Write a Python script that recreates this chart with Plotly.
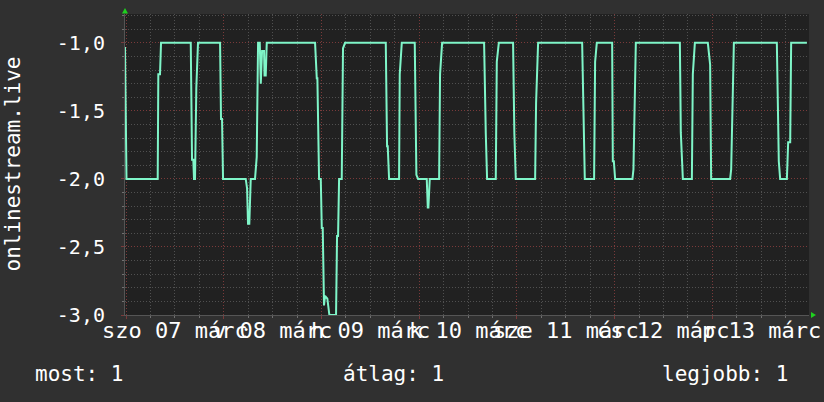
import pandas as pd
import plotly.graph_objects as go

# ---------------- data ----------------
times = [
    "2026-03-06 23:45", "2026-03-06 23:47", "2026-03-06 23:57", "2026-03-07 00:07",
    "2026-03-07 07:47", "2026-03-07 07:56", "2026-03-07 08:21", "2026-03-07 08:36",
    "2026-03-07 15:54", "2026-03-07 16:13", "2026-03-07 16:32", "2026-03-07 16:42",
    "2026-03-07 16:57", "2026-03-07 17:16", "2026-03-07 17:41", "2026-03-07 23:06",
    "2026-03-07 23:20", "2026-03-07 23:35", "2026-03-07 23:50", "2026-03-08 05:24",
    "2026-03-08 05:44", "2026-03-08 05:58", "2026-03-08 06:17", "2026-03-08 06:38",
    "2026-03-08 07:41", "2026-03-08 08:06", "2026-03-08 08:26", "2026-03-08 08:51",
    "2026-03-08 09:06", "2026-03-08 09:25", "2026-03-08 09:54", "2026-03-08 10:01",
    "2026-03-08 10:19", "2026-03-08 10:34", "2026-03-08 22:26", "2026-03-08 22:51",
    "2026-03-08 23:00", "2026-03-08 23:25", "2026-03-08 23:50", "2026-03-09 00:05",
    "2026-03-09 00:19", "2026-03-09 00:38", "2026-03-09 00:53", "2026-03-09 01:27",
    "2026-03-09 01:57", "2026-03-09 03:35", "2026-03-09 03:50", "2026-03-09 04:05",
    "2026-03-09 04:20", "2026-03-09 04:59", "2026-03-09 05:18", "2026-03-09 05:48",
    "2026-03-09 15:48", "2026-03-09 16:07", "2026-03-09 16:17", "2026-03-09 16:37",
    "2026-03-09 19:04", "2026-03-09 19:14", "2026-03-09 19:44", "2026-03-09 22:55",
    "2026-03-09 23:19", "2026-03-09 23:44", "2026-03-10 01:52", "2026-03-10 02:07",
    "2026-03-10 02:16", "2026-03-10 02:36", "2026-03-10 04:54", "2026-03-10 05:08",
    "2026-03-10 05:38", "2026-03-10 15:57", "2026-03-10 16:12", "2026-03-10 16:22",
    "2026-03-10 16:41", "2026-03-10 18:49", "2026-03-10 19:04", "2026-03-10 19:34",
    "2026-03-10 23:04", "2026-03-10 23:23", "2026-03-10 23:44", "2026-03-11 04:29",
    "2026-03-11 04:43", "2026-03-11 05:13", "2026-03-11 16:02", "2026-03-11 16:21",
    "2026-03-11 16:41", "2026-03-11 18:58", "2026-03-11 19:13", "2026-03-11 19:38",
    "2026-03-11 23:24", "2026-03-11 23:34", "2026-03-11 23:49", "2026-03-12 00:08",
    "2026-03-12 04:23", "2026-03-12 04:38", "2026-03-12 05:13", "2026-03-12 16:02",
    "2026-03-12 16:16", "2026-03-12 16:46", "2026-03-12 18:59", "2026-03-12 19:13",
    "2026-03-12 19:43", "2026-03-12 22:54", "2026-03-12 23:18", "2026-03-12 23:28",
    "2026-03-12 23:43", "2026-03-13 04:23", "2026-03-13 04:38", "2026-03-13 05:18",
    "2026-03-13 15:51", "2026-03-13 16:10", "2026-03-13 16:20", "2026-03-13 16:40",
    "2026-03-13 18:19", "2026-03-13 18:38", "2026-03-13 19:08", "2026-03-13 19:22",
    "2026-03-13 23:14",
]
values = [
    -1.03, -1.55, -1.55, -2.00,
    -2.00, -1.23, -1.23, -1.00,
    -1.00, -1.86, -1.86, -2.00,
    -2.00, -1.33, -1.00, -1.00,
    -1.56, -1.56, -2.00, -2.00,
    -2.07, -2.33, -2.33, -2.00,
    -2.00, -1.84, -1.00, -1.00,
    -1.30, -1.06, -1.06, -1.24,
    -1.24, -1.00, -1.00, -1.26,
    -1.26, -2.00, -2.00, -2.36,
    -2.36, -2.93, -2.86, -2.88,
    -3.00, -3.00, -2.42, -2.42,
    -2.00, -2.00, -1.04, -1.00,
    -1.00, -1.76, -1.76, -2.00,
    -2.00, -1.23, -1.00, -1.00,
    -1.97, -2.00, -2.00, -2.21,
    -2.21, -2.00, -2.00, -1.23,
    -1.00, -1.00, -1.67, -1.67,
    -2.00, -2.00, -1.14, -1.00,
    -1.00, -1.67, -2.00, -2.00,
    -1.44, -1.00, -1.00, -1.66,
    -2.00, -2.00, -1.14, -1.00,
    -1.00, -1.87, -1.87, -2.00,
    -2.00, -1.93, -1.00, -1.00,
    -1.66, -2.00, -2.00, -1.23,
    -1.00, -1.00, -1.16, -1.16,
    -2.00, -2.00, -1.93, -1.00,
    -1.00, -1.87, -1.87, -2.00,
    -2.00, -1.73, -1.73, -1.00,
    -1.00,
]
day_starts = ["2026-03-07", "2026-03-08", "2026-03-09", "2026-03-10",
              "2026-03-11", "2026-03-12", "2026-03-13"]
day_labels = ["szo 07 márc", "v 08 márc", "h 09 márc", "k 10 márc",
              "sze 11 márc", "cs 12 márc", "p 13 márc"]
y_tick_values = [-3.0, -2.5, -2.0, -1.5, -1.0]
y_tick_labels = ["-3,0", "-2,5", "-2,0", "-1,5", "-1,0"]
series_name = "onlinestream.live"
legend_labels = ["most", "átlag", "legjobb"]
legend_values = ["1", "1", "1"]

x_range = ["2026-03-06 23:45", "2026-03-13 23:45"]
y_range = [-3.0, -0.788]

# ---------------- layout constants ----------------
W, H = 824, 402
L, R, T, B = 125, 15, 14, 87
PW, PH = W - L - R, H - T - B
FONT = "DejaVu Sans Mono"
LINE = "#7ff5c8"
MAJOR = "#7a3a3a"
MINOR = "#505050"
DASH = "1px,2px"


def px(xp):
    return (xp - L) / PW


def py(yp):
    return (H - B - yp) / PH


fig = go.Figure()
fig.add_trace(go.Scatter(
    x=times, y=values, mode="lines", name=series_name,
    line=dict(color=LINE, width=2), hoverinfo="skip",
))

fig.update_layout(
    width=W, height=H,
    paper_bgcolor="#303030", plot_bgcolor="#212121",
    margin=dict(l=L, r=R, t=T, b=B, pad=0, autoexpand=False),
    showlegend=False,
    font=dict(family=FONT, color="#ffffff", size=20),
)

fig.update_xaxes(
    type="date", range=x_range,
    tick0=day_starts[0], dtick=86400000,
    showticklabels=False,
    ticks="outside", ticklen=3, tickcolor=MAJOR,
    showgrid=True, gridcolor=MAJOR, gridwidth=1, griddash=DASH,
    minor=dict(dtick=21600000, tick0=day_starts[0], showgrid=True,
               gridcolor=MINOR, griddash=DASH,
               ticks="outside", ticklen=2, tickcolor="#707070"),
    showline=True, linecolor="#555555", linewidth=1,
    zeroline=False, fixedrange=True, automargin=False,
)
fig.update_yaxes(
    range=y_range, tickmode="array",
    tickvals=y_tick_values, ticktext=y_tick_labels,
    tickfont=dict(family=FONT, size=20, color="#ffffff"),
    ticks="outside", ticklen=3, tickcolor=MAJOR,
    showgrid=True, gridcolor=MAJOR, gridwidth=1, griddash=DASH,
    minor=dict(tickmode="linear", tick0=-3.0, dtick=0.1, showgrid=True,
               gridcolor=MINOR, griddash=DASH,
               ticks="outside", ticklen=2, tickcolor="#707070"),
    showline=True, linecolor="#555555", linewidth=1,
    zeroline=False, ticklabelstandoff=12, fixedrange=True, automargin=False,
)

annotations = []
# day labels centred at noon of each day
for d, lab in zip(day_starts, day_labels):
    noon = (pd.Timestamp(d) + pd.Timedelta(hours=12)).strftime("%Y-%m-%d %H:%M")
    annotations.append(dict(
        x=noon, xref="x", y=py(331), yref="paper", text=lab, showarrow=False,
        xanchor="center", yanchor="middle",
        font=dict(family=FONT, size=22, color="#ffffff"),
    ))
# y-axis title
annotations.append(dict(
    x=px(12), xref="paper", y=0.5, yref="paper", text=series_name,
    textangle=-90, showarrow=False, xanchor="center", yanchor="middle",
    font=dict(family=FONT, size=21, color="#ffffff"),
))
# legend / summary line
leg_pos = [(33, "left"), (341, "left"), (790, "right")]
for (xp, anc), lab, val in zip(leg_pos, legend_labels, legend_values):
    annotations.append(dict(
        x=px(xp), xref="paper", y=py(374), yref="paper",
        text=f"{lab}: {val}", showarrow=False, xanchor=anc, yanchor="middle",
        font=dict(family=FONT, size=21, color="#ffffff"),
    ))
fig.update_layout(annotations=annotations)

# green axis arrows
def tri(pts):
    return "M " + " L ".join(f"{px(a):.5f},{py(b):.5f}" for a, b in pts) + " Z"

fig.update_layout(shapes=[
    dict(type="path", xref="paper", yref="paper",
         path=tri([(122, 13.5), (128, 13.5), (125, 8)]),
         fillcolor="#1fd01f", line=dict(width=0)),
    dict(type="path", xref="paper", yref="paper",
         path=tri([(811, 312), (811, 318), (816, 315)]),
         fillcolor="#1fd01f", line=dict(width=0)),
])

fig.write_html(
    "out.html",
    config={"displayModeBar": False},
    post_script="document.body.style.margin='0';document.body.style.overflow='hidden';",
)
